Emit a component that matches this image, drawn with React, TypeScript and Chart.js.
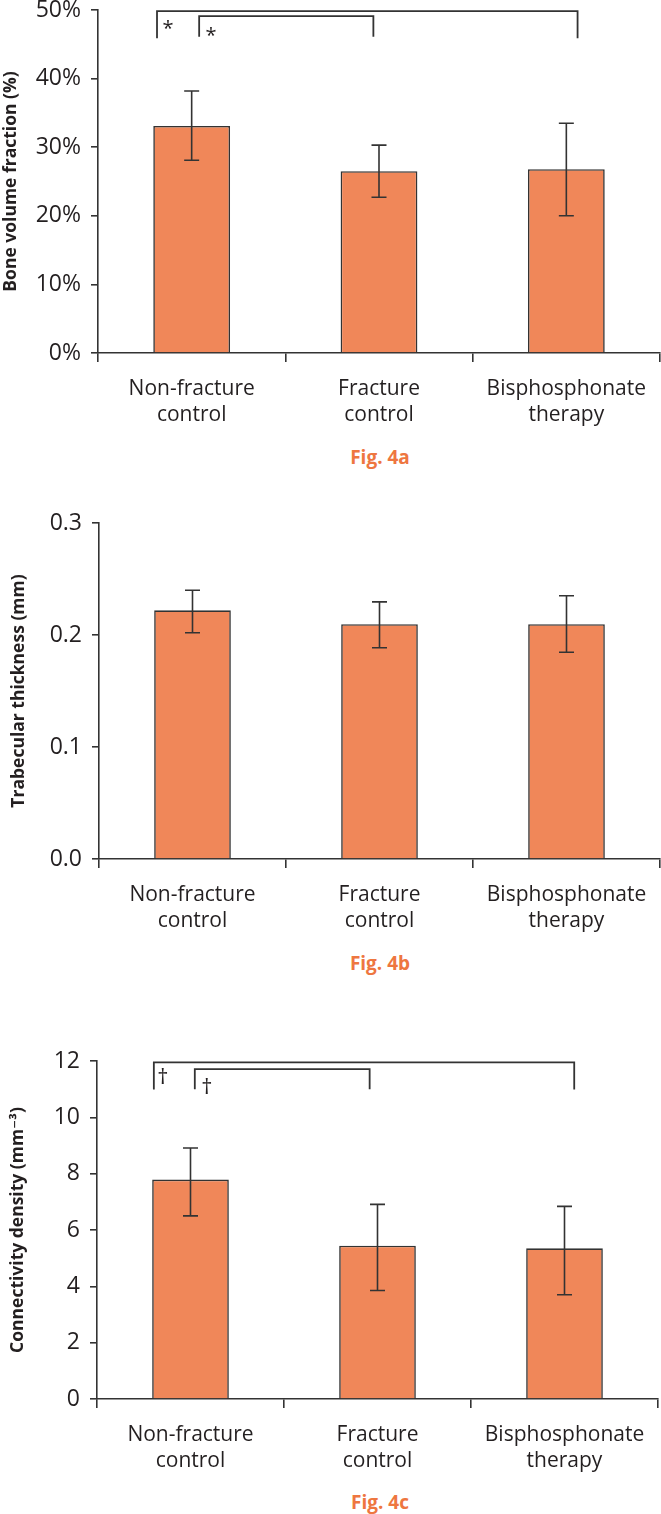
import React, { useEffect, useRef } from 'react';
import { Chart, registerables } from 'chart.js';

Chart.register(...registerables);

// ---------- data ----------
const categories: string[][] = [
  ['Non-fracture', 'control'],
  ['Fracture', 'control'],
  ['Bisphosphonate', 'therapy'],
];

// Fig. 4a  Bone volume fraction (%)
const bvfMean = [33.1, 26.5, 26.8];
const bvfErrLow = [5.0, 3.8, 6.8];
const bvfErrHigh = [5.1, 3.8, 6.7];

// Fig. 4b  Trabecular thickness (mm)
const tbMean = [0.222, 0.2096, 0.2096];
const tbErrLow = [0.02, 0.021, 0.025];
const tbErrHigh = [0.018, 0.02, 0.0254];

// Fig. 4c  Connectivity density (mm^-3)
const cdMean = [7.79, 5.44, 5.35];
const cdErrLow = [1.29, 1.59, 1.65];
const cdErrHigh = [1.12, 1.47, 1.49];

// significance brackets (x in category units, y in value units)
const bvfBrackets = [
  { x1: -0.185, x2: 2.06, top: 49.85, foot: 45.9 },
  { x1: 0.04, x2: 0.97, top: 49.1, foot: 46.1 },
];
const bvfMarks = [
  { x: -0.126, y: 46.4, text: '*' },
  { x: 0.103, y: 45.4, text: '*' },
];
const cdBrackets = [
  { x1: -0.196, x2: 2.052, top: 11.95, foot: 10.99 },
  { x1: 0.023, x2: 0.958, top: 11.71, foot: 11.0 },
];
const cdMarks = [
  { x: -0.148, y: 11.17, text: '†' },
  { x: 0.087, y: 10.82, text: '†' },
];

// ---------- styles ----------
const TEXT = '#231F20';
const LINE = '#333333';
const BAR = '#F08759';
const FIG = '#EE7640';
const FONT = "'Open Sans', 'DejaVu Sans', sans-serif";

type Bracket = { x1: number; x2: number; top: number; foot: number };
type Mark = { x: number; y: number; text: string };

interface PanelProps {
  top: number;
  height: number;
  padTop: number;
  axisWidth: number;
  padRight: number;
  means: number[];
  errLow: number[];
  errHigh: number[];
  yMin: number;
  yMax: number;
  yStep: number;
  fmt: (v: number) => string;
  yTitle: string;
  titlePad: number;
  brackets: Bracket[];
  marks: Mark[];
  markSize: number;
}

function BarPanel(p: PanelProps) {
  const ref = useRef<HTMLCanvasElement | null>(null);
  useEffect(() => {
    if (!ref.current) return;
    const overlay = {
      id: 'overlay',
      afterDatasetsDraw(chart: any) {
        const ctx = chart.ctx;
        const xs = chart.scales.x;
        const ys = chart.scales.y;
        ctx.save();
        ctx.strokeStyle = LINE;
        ctx.lineWidth = 1.6;
        // error bars
        p.means.forEach((m, i) => {
          const x = xs.getPixelForValue(i);
          const yHi = ys.getPixelForValue(m + p.errHigh[i]);
          const yLo = ys.getPixelForValue(m - p.errLow[i]);
          ctx.beginPath();
          ctx.moveTo(x, yHi);
          ctx.lineTo(x, yLo);
          ctx.moveTo(x - 7.5, yHi);
          ctx.lineTo(x + 7.5, yHi);
          ctx.moveTo(x - 7.5, yLo);
          ctx.lineTo(x + 7.5, yLo);
          ctx.stroke();
        });
        // brackets
        ctx.lineWidth = 1.8;
        p.brackets.forEach((b) => {
          const xa = xs.getPixelForValue(b.x1);
          const xb = xs.getPixelForValue(b.x2);
          const yt = ys.getPixelForValue(b.top);
          const yf = ys.getPixelForValue(b.foot);
          ctx.beginPath();
          ctx.moveTo(xa, yf);
          ctx.lineTo(xa, yt);
          ctx.lineTo(xb, yt);
          ctx.lineTo(xb, yf);
          ctx.stroke();
        });
        // marks
        ctx.fillStyle = TEXT;
        ctx.font = `${p.markSize}px ${FONT}`;
        ctx.textAlign = 'center';
        ctx.textBaseline = 'alphabetic';
        p.marks.forEach((mk) => {
          ctx.fillText(mk.text, xs.getPixelForValue(mk.x), ys.getPixelForValue(mk.y));
        });
        ctx.restore();
      },
    };
    const chart = new Chart(ref.current, {
      type: 'bar',
      data: {
        labels: categories,
        datasets: [
          {
            data: p.means,
            backgroundColor: BAR,
            borderColor: LINE,
            borderWidth: 1.6,
            borderSkipped: 'bottom',
            categoryPercentage: 1,
            barPercentage: 0.41,
          },
        ],
      },
      options: {
        responsive: false,
        animation: false,
        layout: { padding: { top: p.padTop, right: p.padRight, left: 0, bottom: 0 } },
        plugins: { legend: { display: false }, tooltip: { enabled: false } },
        scales: {
          x: {
            offset: true,
            grid: {
              offset: true,
              drawOnChartArea: false,
              drawTicks: true,
              tickLength: 9,
              color: LINE,
              lineWidth: 1.6,
            },
            border: { display: true, color: LINE, width: 1.6 },
            ticks: {
              color: TEXT,
              font: { family: FONT, size: 21, lineHeight: 1.238 },
              padding: 14,
              maxRotation: 0,
              autoSkip: false,
            },
            afterFit: (s: any) => {
              s.height = 80;
            },
          },
          y: {
            min: p.yMin,
            max: p.yMax,
            grid: {
              drawOnChartArea: false,
              drawTicks: true,
              tickLength: 7,
              color: LINE,
              lineWidth: 1.6,
            },
            border: { display: true, color: LINE, width: 1.6 },
            ticks: {
              stepSize: p.yStep,
              color: TEXT,
              font: { family: FONT, size: 23 },
              padding: 10,
              callback: (v: any) => p.fmt(Number(v)),
            },
            title: {
              display: true,
              text: p.yTitle,
              color: TEXT,
              font: { family: FONT, size: 17.5, weight: 'bold' },
              padding: { top: p.titlePad, bottom: 0 },
            },
            afterFit: (s: any) => {
              s.width = p.axisWidth;
            },
          },
        },
      },
      plugins: [overlay],
    } as any);
    return () => chart.destroy();
  }, []);
  return (
    <canvas
      ref={ref}
      width={661}
      height={p.height}
      style={{ position: 'absolute', left: 0, top: p.top, width: 661, height: p.height }}
    />
  );
}

function FigLabel({ text, y }: { text: string; y: number }) {
  return (
    <div
      style={{
        position: 'absolute',
        left: 280,
        width: 200,
        top: y - 13,
        height: 26,
        lineHeight: '26px',
        textAlign: 'center',
        fontFamily: FONT,
        fontWeight: 'bold',
        fontSize: 19,
        color: FIG,
      }}
    >
      {text}
    </div>
  );
}

export default function App() {
  useEffect(() => {
    document.body.style.margin = '0';
    document.body.style.background = '#ffffff';
  }, []);
  return (
    <div style={{ position: 'absolute', left: 0, top: 0, width: 661, height: 1514, overflow: 'hidden', background: '#fff' }}>
      <BarPanel
        top={-20}
        height={453}
        padTop={30}
        axisWidth={98}
        padRight={1}
        means={bvfMean}
        errLow={bvfErrLow}
        errHigh={bvfErrHigh}
        yMin={0}
        yMax={50}
        yStep={10}
        fmt={(v) => `${Math.round(v)}%`}
        yTitle="Bone volume fraction (%)"
        titlePad={1}
        brackets={bvfBrackets}
        marks={bvfMarks}
        markSize={20}
      />
      <FigLabel text="Fig. 4a" y={457} />
      <BarPanel
        top={480}
        height={459}
        padTop={43}
        axisWidth={99}
        padRight={1}
        means={tbMean}
        errLow={tbErrLow}
        errHigh={tbErrHigh}
        yMin={0}
        yMax={0.3}
        yStep={0.1}
        fmt={(v) => v.toFixed(1)}
        yTitle="Trabecular thickness (mm)"
        titlePad={9}
        brackets={[]}
        marks={[]}
        markSize={20}
      />
      <FigLabel text="Fig. 4b" y={963} />
      <BarPanel
        top={1030}
        height={449}
        padTop={31}
        axisWidth={97}
        padRight={3}
        means={cdMean}
        errLow={cdErrLow}
        errHigh={cdErrHigh}
        yMin={0}
        yMax={12}
        yStep={2}
        fmt={(v) => String(v)}
        yTitle="Connectivity density (mm⁻³)"
        titlePad={8}
        brackets={cdBrackets}
        marks={cdMarks}
        markSize={22}
      />
      <FigLabel text="Fig. 4c" y={1502} />
    </div>
  );
}
